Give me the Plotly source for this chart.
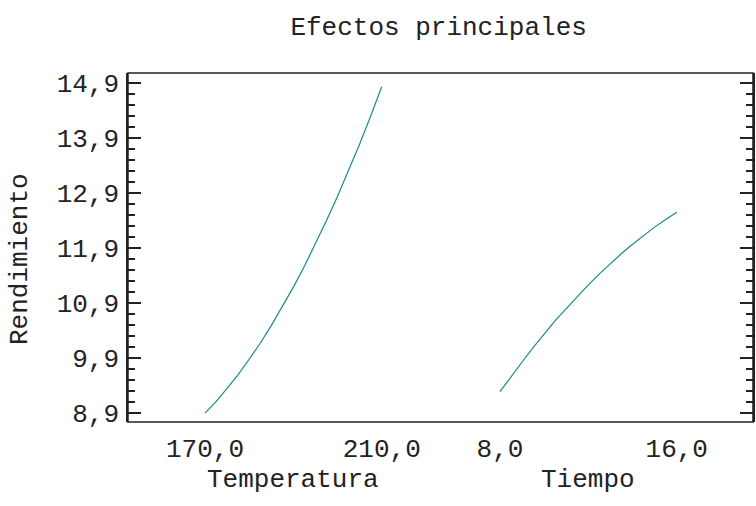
import plotly.graph_objects as go

# Data
temperatura = [170, 172.5, 175, 177.5, 180, 182.5, 185, 187.5, 190, 192.5, 195,
               197.5, 200, 202.5, 205, 207.5, 210]
rend_temp = [8.90, 9.11, 9.35, 9.60, 9.88, 10.17, 10.49, 10.83, 11.19, 11.57, 11.97,
             12.40, 12.84, 13.31, 13.79, 14.30, 14.83]

tiempo = [8.0, 8.5, 9.0, 9.5, 10.0, 10.5, 11.0, 11.5, 12.0, 12.5, 13.0, 13.5, 14.0,
          14.5, 15.0, 15.5, 16.0]
rend_tiempo = [9.29, 9.57, 9.83, 10.09, 10.34, 10.58, 10.80, 11.02, 11.23, 11.43, 11.62,
               11.80, 11.97, 12.13, 12.28, 12.42, 12.55]

temp_ticks = [170, 210]
temp_ticktext = ["170,0", "210,0"]
tiempo_ticks = [8, 16]
tiempo_ticktext = ["8,0", "16,0"]
y_ticks = [8.9, 9.9, 10.9, 11.9, 12.9, 13.9, 14.9]
y_ticktext = ["8,9", "9,9", "10,9", "11,9", "12,9", "13,9", "14,9"]

FONT = "Liberation Mono, Courier New, monospace"
FS = 26
INK = "#222222"
LINE_COLOR = "#178c8c"

fig = go.Figure()
fig.add_trace(go.Scatter(x=temperatura, y=rend_temp, mode="lines",
                         line=dict(color=LINE_COLOR, width=1.2),
                         xaxis="x", yaxis="y", showlegend=False))
fig.add_trace(go.Scatter(x=tiempo, y=rend_tiempo, mode="lines",
                         line=dict(color=LINE_COLOR, width=1.2),
                         xaxis="x2", yaxis="y2", showlegend=False))

y_common = dict(range=[8.74, 15.08], showgrid=False, zeroline=False,
                showline=True, linecolor=INK, linewidth=1.5,
                ticks="inside", ticklen=13, tickwidth=1.5, tickcolor=INK,
                tickvals=y_ticks, ticktext=y_ticktext,
                minor=dict(ticks="inside", ticklen=7, tickwidth=1.5, tickcolor=INK,
                           dtick=0.2, tick0=8.9))

fig.update_layout(
    width=756, height=506,
    margin=dict(l=128, r=3, t=73, b=84),
    paper_bgcolor="white", plot_bgcolor="white",
    font=dict(family=FONT, size=FS, color=INK),
    separators=",.",
    title=dict(text="Efectos principales", x=0.497, xref="paper", xanchor="center",
               y=1 - 26 / 506, yref="container", yanchor="middle",
               font=dict(family=FONT, size=FS, color=INK)),
    xaxis=dict(domain=[0, 0.5], range=[152.57, 223.3], showgrid=False, zeroline=False,
               showline=False, ticks="", tickvals=temp_ticks, ticktext=temp_ticktext,
               ticklabelstandoff=8,
               tickfont=dict(family=FONT, size=FS), anchor="y"),
    xaxis2=dict(domain=[0.5, 1], range=[5.31, 19.45], showgrid=False, zeroline=False,
                showline=False, ticks="", tickvals=tiempo_ticks, ticktext=tiempo_ticktext,
                ticklabelstandoff=8,
                tickfont=dict(family=FONT, size=FS), anchor="y2"),
    yaxis=dict(**y_common, anchor="x", side="left", ticklabelstandoff=2,
               tickfont=dict(family=FONT, size=FS)),
    yaxis2=dict(**y_common, anchor="x2", side="right", overlaying="y",
                matches="y", showticklabels=False),
    shapes=[dict(type="rect", xref="paper", yref="paper", x0=0, x1=1, y0=0, y1=1,
                 line=dict(color=INK, width=1.5), fillcolor="rgba(0,0,0,0)")],
    annotations=[
        dict(text="Temperatura", xref="x", yref="paper", x=190, y=-0.166,
             xanchor="center", yanchor="middle", showarrow=False,
             font=dict(family=FONT, size=FS)),
        dict(text="Tiempo", xref="x2", yref="paper", x=12, y=-0.166,
             xanchor="center", yanchor="middle", showarrow=False,
             font=dict(family=FONT, size=FS)),
        dict(text="Rendimiento", xref="paper", yref="paper", x=-0.1728, y=0.467,
             xanchor="center", yanchor="middle", showarrow=False, textangle=-90,
             font=dict(family=FONT, size=FS)),
    ],
)

fig.write_html("out.html")
